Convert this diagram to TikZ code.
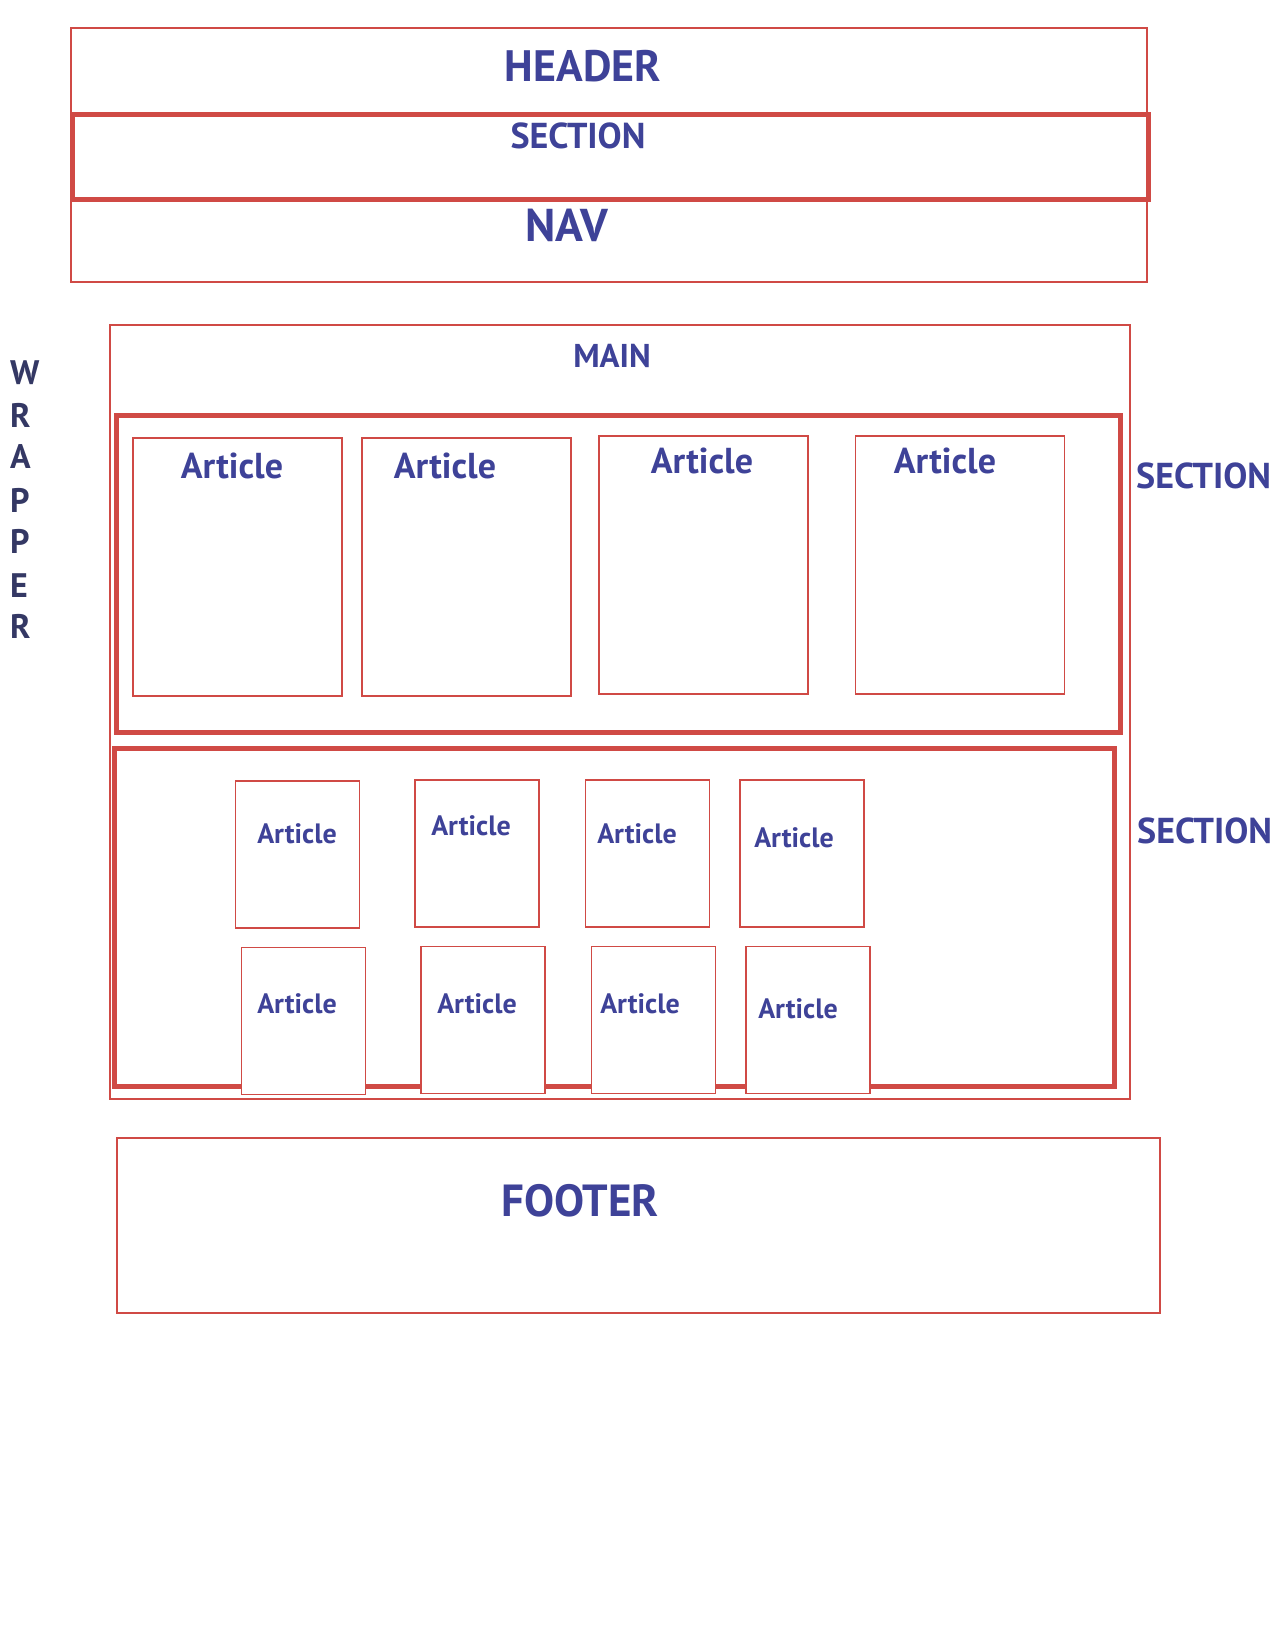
\documentclass[tikz,border=0pt]{standalone}
\usepackage{fontspec}
\setmainfont{PT Sans}
\definecolor{boxred}{RGB}{208,74,69}
\definecolor{labelblue}{RGB}{62,66,152}
\definecolor{wrapnavy}{RGB}{52,56,100}
\newcommand{\fsz}[1]{\fontsize{#1}{#1}\selectfont\bfseries}

\begin{document}
\begin{tikzpicture}[x=1pt, y=-1pt]
    % Define styles
    \tikzset{
        thinbox/.style={draw=boxred, line width=1.5pt, inner sep=0pt, fill=white},
        thickbox/.style={draw=boxred, line width=5pt, inner sep=0pt},
        articlebox/.style={thinbox},
        biglabel/.style={text=labelblue, inner sep=0pt, anchor=base, font=\fsz{36}},
        smalllabel/.style={text=labelblue, inner sep=0pt, anchor=base, font=\fsz{28}},
        sidelabel/.style={text=labelblue, inner sep=0pt, anchor=base west, font=\fsz{36}},
        wrapletter/.style={text=wrapnavy, inner sep=0pt, anchor=base west, font=\fsz{34}}
    }
    \useasboundingbox (0,0) rectangle (1275,1650);

    % Header / section / nav block
    \node[thinbox, minimum width=1076pt, minimum height=254pt] (header) at (609,155) {};
    \node[thickbox, minimum width=1076pt, minimum height=85pt] (topsection) at (610,156.5) {};
    \node[biglabel, font=\fsz{44}] (headerlbl) at (583,81) {HEADER};
    \node[biglabel] (topsectionlbl) at (578,148) {SECTION};
    \node[biglabel, font=\fsz{46}] (navlbl) at (567,241) {NAV};

    % Main with its two sections
    \node[thinbox, minimum width=1020pt, minimum height=774pt] (main) at (620,712) {};
    \node[biglabel, font=\fsz{33}] (mainlbl) at (612,367) {MAIN};
    \node[thickbox, minimum width=1004pt, minimum height=317pt] (section1) at (618,574) {};
    \node[thickbox, minimum width=1000pt, minimum height=338pt] (section2) at (614.5,917) {};
    \node[sidelabel] (section1lbl) at (1136,488) {SECTION};
    \node[sidelabel] (section2lbl) at (1137,843) {SECTION};

    % Large articles
    \foreach \cx/\cy/\tx/\ty [count=\i] in {237.5/567/232/478, 466.5/567/445/478, 703.5/565/702/473, 960/565/945/473} {
        \node[articlebox, minimum width=209pt, minimum height=258pt] (bigart\i) at (\cx,\cy) {};
        \node[biglabel] (bigartlbl\i) at (\tx,\ty) {Article};
    }

    % Small articles, two rows
    \foreach \cx/\cy/\tx/\ty [count=\i] in {297.5/854.5/297/843, 477/853.5/471/835, 647.5/853.5/637/843, 802/853.5/794/847,
                                            303.5/1021/297/1013, 483/1020/477/1013, 653.5/1020/640/1013, 808/1020/798/1018} {
        \node[articlebox, minimum width=124pt, minimum height=147pt] (smallart\i) at (\cx,\cy) {};
        \node[smalllabel] (smallartlbl\i) at (\tx,\ty) {Article};
    }

    % Footer
    \node[thinbox, minimum width=1043pt, minimum height=175pt] (footer) at (638.5,1225.5) {};
    \node[biglabel, font=\fsz{45}] (footerlbl) at (580,1216) {FOOTER};

    % Wrapper, one letter per line
    \foreach \ch/\by [count=\i] in {W/384, R/427, A/468, P/512, P/553, E/597, R/638} {
        \node[wrapletter] (wrap\i) at (10,\by) {\ch};
    }
\end{tikzpicture}
\end{document}
